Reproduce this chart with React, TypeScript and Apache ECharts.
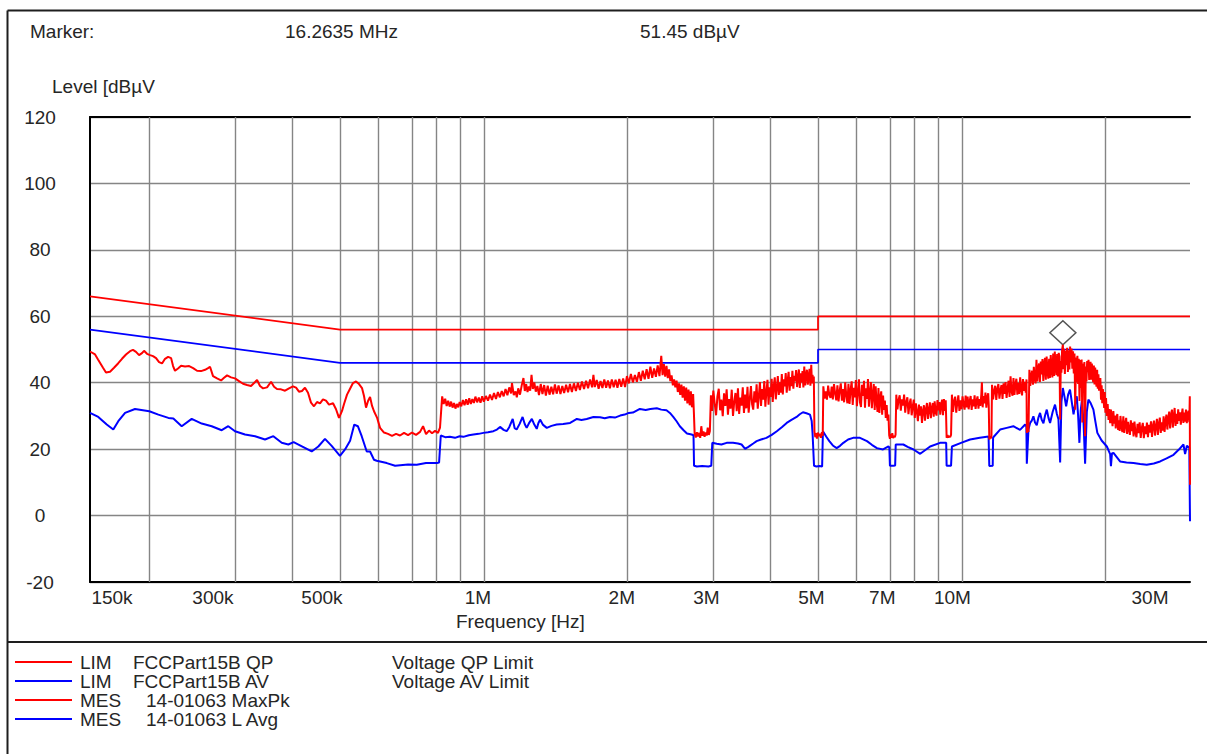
import React, { useEffect, useRef } from 'react';
import * as echarts from 'echarts';

// ---------- data (frequency in MHz, level in dBµV) ----------
const qpLimit: [number, number][] = [[0.15, 66], [0.5, 56], [5, 56], [5, 60], [30, 60]];
const avLimit: [number, number][] = [[0.15, 56], [0.5, 46], [5, 46], [5, 50], [30, 50]];

const maxPkBand1: [number, number][] = [
  [0.150, 49.4], [0.1537, 48.5], [0.1559, 47.0], [0.1597, 44.5], [0.162, 43.1], [0.1652, 43.3], [0.1684, 44.5], [0.1717, 45.8],
  [0.175, 47.2], [0.1784, 48.5], [0.1819, 49.5], [0.1845, 49.9], [0.1872, 49.3], [0.19, 48.3], [0.1927, 48.9], [0.1946, 49.6],
  [0.1974, 48.7], [0.2003, 48.3], [0.2032, 48.0], [0.2062, 47.4], [0.2092, 46.2], [0.2122, 45.8], [0.2153, 47.2], [0.2185, 47.8],
  [0.2217, 47.4], [0.2238, 45.0], [0.2259, 43.6], [0.2292, 44.3], [0.2326, 45.1], [0.2371, 44.9], [0.2418, 45.0], [0.2465, 44.4],
  [0.2512, 43.6], [0.2561, 43.5], [0.2611, 43.9], [0.2649, 44.4], [0.2674, 44.8], [0.2713, 42.0], [0.2766, 41.3], [0.282, 40.7],
  [0.2861, 41.5], [0.2903, 42.2], [0.2959, 41.6], [0.3016, 41.3], [0.3075, 40.5], [0.3135, 39.7], [0.3196, 39.3], [0.3258, 39.0],
  [0.3322, 40.2], [0.3354, 40.8], [0.3402, 39.0], [0.3452, 38.3], [0.3519, 38.6], [0.3588, 40.3], [0.364, 38.8], [0.3692, 38.1],
  [0.3764, 38.0], [0.3838, 37.6], [0.3912, 38.3], [0.3988, 38.9], [0.4047, 38.5], [0.4104, 37.3], [0.4164, 37.5], [0.4225, 38.5],
  [0.4287, 37.0], [0.4349, 34.0], [0.4412, 32.9], [0.4477, 34.2], [0.4542, 33.8], [0.4607, 35.0], [0.4675, 34.6], [0.4743, 33.4],
  [0.4836, 33.8], [0.4906, 32.0], [0.4977, 29.4], [0.505, 31.5], [0.5099, 33.6], [0.5173, 36.4], [0.5249, 38.2], [0.5324, 39.9],
  [0.5402, 40.4], [0.5481, 39.6], [0.556, 38.4], [0.5614, 36.0], [0.5669, 32.5], [0.5724, 34.5], [0.578, 35.7], [0.5836, 33.0],
  [0.5891, 31.4], [0.5977, 29.5], [0.6065, 26.4], [0.6182, 25.0], [0.6302, 24.6], [0.6425, 24.0], [0.6551, 24.6], [0.6677, 24.1],
  [0.6808, 24.9], [0.6941, 24.2], [0.7074, 25.0], [0.7213, 24.3], [0.7354, 25.2], [0.7461, 26.9], [0.7569, 24.5], [0.7679, 25.6],
  [0.7791, 24.8], [0.7905, 25.5], [0.8018, 24.9], [0.8096, 26.5],
];

const maxPkBand2: [number, number][] = [
  [0.818, 35.9], [0.824, 33.6], [0.830, 35.2], [0.836, 33.0], [0.842, 34.6], [0.848, 32.8], [0.854, 34.3], [0.860, 32.5],
  [0.866, 33.9], [0.872, 32.2], [0.878, 33.6], [0.884, 32.6], [0.890, 34.2], [0.897, 32.9], [0.904, 34.8], [0.911, 33.2],
  [0.918, 35.0], [0.925, 33.4], [0.932, 35.3], [0.939, 33.6], [0.946, 35.1], [0.953, 33.9], [0.960, 35.8], [0.968, 34.1],
  [0.976, 35.5], [0.984, 34.0], [0.992, 35.9], [1.000, 34.3], [1.010, 36.0], [1.020, 34.6], [1.030, 36.4], [1.040, 34.8],
  [1.050, 36.9], [1.060, 35.1], [1.070, 37.2], [1.080, 35.6], [1.090, 37.5], [1.100, 35.9], [1.110, 38.1], [1.120, 36.2],
  [1.130, 38.6], [1.140, 36.8], [1.145, 39.9], [1.155, 36.3], [1.165, 37.4], [1.172, 35.6], [1.180, 38.3], [1.190, 36.4],
  [1.200, 39.2], [1.210, 41.4], [1.218, 37.5], [1.226, 39.6], [1.234, 37.2], [1.242, 38.9], [1.250, 37.6], [1.258, 42.4],
  [1.266, 38.1], [1.275, 40.1], [1.284, 37.3], [1.294, 39.0], [1.304, 36.3], [1.315, 39.6], [1.326, 36.6], [1.337, 39.3],
  [1.348, 36.1], [1.360, 39.1], [1.372, 36.4], [1.384, 38.8], [1.396, 36.5], [1.408, 39.5], [1.420, 36.7], [1.433, 39.2],
  [1.446, 36.6], [1.459, 39.0], [1.472, 36.9], [1.486, 39.4], [1.500, 37.1], [1.514, 39.6], [1.528, 37.2], [1.543, 39.8],
  [1.558, 37.5], [1.573, 40.0], [1.588, 37.8], [1.604, 40.4], [1.620, 38.1], [1.636, 40.6], [1.652, 38.3], [1.668, 41.0],
  [1.684, 38.6], [1.695, 42.4], [1.706, 38.7], [1.722, 40.8], [1.738, 38.2], [1.754, 40.5], [1.770, 38.4], [1.786, 41.0],
  [1.802, 38.5], [1.818, 40.7], [1.835, 38.3], [1.852, 41.0], [1.869, 38.6], [1.886, 40.9], [1.903, 38.5], [1.920, 41.1],
  [1.938, 38.8], [1.956, 41.3], [1.974, 38.7], [1.992, 42.0], [2.010, 39.8], [2.030, 42.6], [2.050, 40.1], [2.070, 42.3],
  [2.090, 40.3], [2.110, 43.2], [2.130, 40.6], [2.150, 43.6], [2.170, 41.0], [2.190, 44.1], [2.210, 41.2], [2.230, 44.8],
  [2.250, 41.5], [2.270, 44.3], [2.290, 41.8], [2.310, 45.2], [2.330, 42.0], [2.350, 48.1], [2.365, 42.3], [2.380, 45.6],
  [2.395, 41.8], [2.410, 45.1], [2.425, 41.4], [2.440, 44.0], [2.455, 40.5], [2.470, 42.2], [2.485, 39.2], [2.500, 41.0],
  [2.515, 38.6], [2.530, 40.6], [2.545, 37.2], [2.560, 39.8], [2.575, 36.3], [2.590, 39.4], [2.605, 35.5], [2.620, 38.9],
  [2.635, 34.6], [2.650, 38.5], [2.665, 33.8], [2.680, 37.9], [2.695, 33.2], [2.710, 37.4], [2.725, 32.6], [2.740, 36.6],
  [2.750, 31.0],
];

const maxPkBand3: [number, number][] = [
  [2.760, 24.6], [2.775, 23.5], [2.790, 25.1], [2.805, 23.8], [2.820, 24.9], [2.835, 23.4], [2.850, 26.9], [2.865, 24.0],
  [2.880, 25.3], [2.895, 23.7], [2.910, 25.0], [2.925, 24.1], [2.940, 26.5], [2.955, 24.3], [2.970, 25.4],
  [2.985, 36.2], [3.000, 31.5], [3.020, 37.6], [3.040, 33.8], [3.060, 30.2], [3.080, 35.9], [3.100, 38.2], [3.120, 31.7],
  [3.140, 34.9], [3.160, 29.9], [3.180, 36.8], [3.200, 33.0], [3.220, 38.0], [3.240, 30.4], [3.260, 35.1], [3.280, 32.2],
  [3.300, 37.9], [3.320, 30.0], [3.340, 34.3], [3.360, 36.9], [3.380, 31.4], [3.400, 38.3], [3.420, 30.6], [3.440, 35.5],
  [3.460, 33.1], [3.480, 38.6], [3.500, 30.9], [3.520, 36.4], [3.540, 32.3], [3.560, 38.8], [3.580, 31.0], [3.600, 35.2],
  [3.620, 39.0], [3.640, 33.5], [3.660, 31.9], [3.680, 37.4], [3.700, 34.1], [3.720, 39.5], [3.740, 32.2], [3.760, 36.0],
  [3.780, 40.2], [3.800, 33.0], [3.820, 38.1], [3.840, 34.9], [3.860, 40.5], [3.880, 32.8], [3.900, 37.3], [3.920, 40.9],
  [3.940, 33.4], [3.960, 38.6], [3.980, 35.7], [4.000, 41.2], [4.020, 34.2], [4.040, 39.0], [4.060, 41.6], [4.080, 35.0],
  [4.100, 38.4], [4.120, 42.0], [4.140, 36.3], [4.160, 40.1], [4.180, 37.0], [4.200, 42.6], [4.220, 36.5], [4.240, 41.0],
  [4.260, 38.9], [4.280, 42.9], [4.300, 37.0], [4.320, 40.6], [4.340, 43.3], [4.360, 37.6], [4.380, 41.7], [4.400, 39.0],
  [4.420, 43.6], [4.440, 38.2], [4.460, 42.1], [4.480, 40.4], [4.500, 43.8], [4.520, 38.7], [4.540, 41.5], [4.560, 44.0],
  [4.580, 38.4], [4.600, 42.8], [4.620, 40.1], [4.640, 43.5], [4.660, 38.6], [4.680, 44.9], [4.700, 39.2], [4.720, 42.3],
  [4.740, 43.9], [4.760, 39.4], [4.780, 41.8], [4.800, 44.2], [4.820, 39.1], [4.840, 45.4], [4.855, 39.8], [4.870, 42.4],
  [4.885, 40.6], [4.900, 41.9],
  [4.915, 25.3], [4.935, 23.6], [4.955, 24.8], [4.975, 23.2], [4.995, 25.0], [5.020, 23.9], [5.045, 24.6], [5.070, 23.4],
  [5.095, 25.1], [5.115, 24.0],
];

const maxPkBand4: [number, number][] = [
  [5.130, 38.9], [5.160, 35.2], [5.190, 37.4], [5.220, 34.9], [5.250, 39.1], [5.280, 36.3], [5.310, 35.4], [5.340, 38.8],
  [5.370, 35.0], [5.400, 39.6], [5.430, 36.8], [5.460, 34.7], [5.490, 39.2], [5.520, 34.4], [5.550, 37.6], [5.580, 39.8],
  [5.610, 34.6], [5.640, 38.1], [5.670, 34.1], [5.700, 40.1], [5.730, 36.2], [5.760, 33.8], [5.790, 39.7], [5.820, 33.6],
  [5.850, 37.9], [5.880, 40.4], [5.910, 33.3], [5.940, 38.5], [5.970, 35.6], [6.000, 40.8], [6.030, 32.9], [6.060, 37.2],
  [6.090, 41.0], [6.120, 34.1], [6.150, 32.7], [6.180, 39.4], [6.210, 36.0], [6.240, 40.6], [6.270, 32.5], [6.300, 38.3],
  [6.330, 35.1], [6.360, 41.1], [6.390, 32.8], [6.420, 37.0], [6.450, 40.2], [6.480, 32.3], [6.510, 36.4], [6.540, 39.6],
  [6.570, 31.8], [6.600, 38.9], [6.630, 34.2], [6.660, 31.2], [6.690, 38.4], [6.720, 30.9], [6.750, 35.6], [6.780, 37.4],
  [6.810, 30.4], [6.840, 36.1], [6.870, 31.8], [6.900, 34.6], [6.930, 29.4], [6.960, 33.3], [6.990, 28.6], [7.020, 30.4],
  [7.045, 24.2], [7.070, 23.1], [7.095, 24.5], [7.120, 23.4], [7.150, 24.8], [7.180, 23.3], [7.210, 24.0], [7.240, 23.6],
  [7.265, 24.4],
  [7.290, 36.4], [7.330, 32.0], [7.370, 34.8], [7.410, 36.2], [7.450, 31.6], [7.490, 35.0], [7.530, 33.1], [7.570, 36.4],
  [7.610, 31.0], [7.650, 34.2], [7.690, 35.6], [7.730, 30.5], [7.770, 33.6], [7.810, 35.2], [7.850, 30.2], [7.890, 32.8],
  [7.930, 34.9], [7.970, 29.4], [8.010, 33.8], [8.050, 31.2], [8.090, 28.4], [8.130, 33.4], [8.170, 30.1], [8.210, 32.9],
  [8.250, 27.9], [8.290, 31.6], [8.330, 33.2], [8.370, 28.6], [8.410, 32.0], [8.450, 33.9], [8.490, 29.1], [8.530, 31.8],
  [8.570, 34.1], [8.610, 29.3], [8.650, 32.4], [8.690, 33.9], [8.730, 29.8], [8.770, 34.4], [8.810, 31.2], [8.850, 30.1],
  [8.890, 34.8], [8.930, 31.7], [8.970, 34.2], [9.010, 30.4], [9.050, 33.5], [9.090, 34.9], [9.130, 30.2], [9.170, 35.1],
  [9.210, 31.5], [9.250, 34.7],
  [9.290, 23.4], [9.330, 24.2], [9.370, 23.5], [9.410, 24.0], [9.450, 23.6], [9.490, 24.3],
];

const maxPkBand5: [number, number][] = [
  [9.530, 36.4], [9.580, 31.2], [9.630, 34.6], [9.680, 35.8], [9.730, 31.0], [9.780, 33.9], [9.830, 36.2], [9.880, 31.5],
  [9.930, 34.7], [9.980, 32.0], [10.03, 35.9], [10.08, 33.4], [10.13, 31.9], [10.18, 36.1], [10.23, 32.6], [10.28, 35.8],
  [10.33, 32.0], [10.38, 34.5], [10.43, 36.0], [10.48, 31.8], [10.53, 35.0], [10.58, 32.9], [10.63, 36.2], [10.68, 32.1],
  [10.73, 34.4], [10.78, 35.9], [10.83, 32.2], [10.88, 35.1], [10.93, 33.0], [10.98, 36.5], [11.01, 40.1], [11.05, 32.6],
  [11.10, 36.0], [11.15, 33.8], [11.20, 37.0], [11.25, 32.5], [11.30, 35.6], [11.35, 36.8], [11.38, 33.2],
  [11.41, 22.9], [11.45, 23.8], [11.49, 23.2], [11.53, 24.0],
  [11.56, 39.4], [11.62, 35.0], [11.68, 37.6], [11.74, 39.1], [11.80, 34.8], [11.86, 38.2], [11.92, 39.6], [11.98, 35.2],
  [12.04, 37.8], [12.10, 39.3], [12.16, 35.1], [12.22, 39.8], [12.28, 36.6], [12.34, 40.2], [12.40, 35.4], [12.46, 38.3],
  [12.52, 40.6], [12.58, 35.7], [12.64, 41.9], [12.70, 37.4], [12.76, 36.1], [12.82, 41.4], [12.88, 36.3], [12.94, 39.5],
  [13.00, 41.2], [13.06, 36.4], [13.12, 40.0], [13.18, 36.6], [13.24, 41.6], [13.30, 37.9], [13.36, 36.2], [13.42, 41.1],
  [13.48, 37.5], [13.54, 40.3], [13.60, 37.0], [13.65, 41.0],
  [13.67, 24.9], [13.72, 26.0], [13.78, 25.2],
];

const maxPkBand6: [number, number][] = [
  [13.84, 43.9], [13.90, 39.0], [13.96, 42.1], [14.02, 43.6], [14.08, 39.4], [14.14, 44.8], [14.20, 41.2], [14.26, 39.8],
  [14.32, 46.9], [14.38, 40.4], [14.44, 44.1], [14.50, 45.8], [14.56, 40.2], [14.62, 46.4], [14.68, 42.5], [14.74, 47.1],
  [14.80, 40.5], [14.86, 45.3], [14.92, 47.5], [14.98, 40.9], [15.04, 47.9], [15.10, 43.6], [15.16, 41.2], [15.22, 47.2],
  [15.28, 41.4], [15.34, 48.3], [15.40, 44.0], [15.46, 41.6], [15.52, 48.8], [15.58, 42.0], [15.64, 49.4], [15.70, 45.1],
  [15.76, 42.3], [15.82, 48.6], [15.88, 41.9], [15.94, 49.0], [16.00, 47.8], [16.05, 28.9], [16.10, 46.5], [16.15, 43.0],
  [16.20, 49.8], [16.2635, 51.45], [16.30, 44.1], [16.36, 50.2], [16.42, 42.6], [16.48, 49.6], [16.54, 45.3], [16.60, 50.5],
  [16.66, 43.2], [16.72, 49.8], [16.78, 44.0], [16.84, 50.9], [16.90, 46.1], [16.96, 50.3], [17.02, 44.2], [17.08, 49.5],
  [17.14, 42.8], [17.20, 48.8], [17.26, 31.9], [17.32, 47.6], [17.38, 40.2], [17.44, 48.1], [17.50, 39.6], [17.56, 47.2],
  [17.62, 34.5], [17.68, 46.8], [17.74, 38.4], [17.80, 47.0], [17.86, 28.0], [17.92, 45.8], [17.98, 38.1], [18.04, 46.2],
  [18.10, 23.9], [18.16, 44.9], [18.22, 40.4], [18.28, 46.5], [18.34, 43.2], [18.40, 46.9], [18.46, 40.8], [18.52, 45.0],
  [18.58, 46.3], [18.64, 40.9], [18.70, 45.8], [18.76, 41.6], [18.82, 40.2], [18.88, 45.2], [18.94, 39.5], [19.00, 44.6],
  [19.06, 41.3], [19.12, 38.8], [19.18, 43.9], [19.24, 38.2], [19.30, 42.5], [19.36, 37.6], [19.42, 40.6], [19.48, 41.4],
  [19.54, 34.9], [19.60, 39.2], [19.66, 33.8], [19.72, 38.1], [19.78, 35.2], [19.84, 32.4], [19.90, 37.2], [19.96, 31.0],
];

const maxPkBand7: [number, number][] = [
  [20.02, 35.4], [20.10, 30.0], [20.18, 33.6], [20.26, 28.8], [20.34, 32.1], [20.42, 27.8], [20.50, 31.9], [20.58, 29.3],
  [20.66, 26.9], [20.74, 31.5], [20.82, 27.7], [20.90, 30.1], [20.98, 26.2], [21.06, 29.4], [21.14, 30.6], [21.22, 25.8],
  [21.30, 28.7], [21.38, 25.5], [21.46, 30.0], [21.56, 26.8], [21.66, 25.1], [21.76, 29.9], [21.86, 24.9], [21.96, 27.6],
  [22.06, 29.4], [22.16, 24.6], [22.26, 28.2], [22.36, 26.0], [22.46, 24.3], [22.56, 28.7], [22.66, 25.4], [22.76, 27.9],
  [22.86, 23.8], [22.96, 28.3], [23.06, 25.1], [23.18, 23.6], [23.30, 27.6], [23.42, 24.8], [23.54, 28.1], [23.66, 23.4],
  [23.78, 26.4], [23.90, 27.9], [24.02, 23.3], [24.14, 26.9], [24.26, 24.5], [24.38, 28.0], [24.50, 23.6], [24.62, 27.3],
  [24.74, 25.0], [24.86, 28.4], [24.98, 23.7], [25.10, 27.0], [25.22, 28.6], [25.34, 24.1], [25.46, 26.8], [25.58, 29.1],
  [25.70, 24.3], [25.82, 27.6], [25.94, 29.5], [26.06, 24.9], [26.18, 28.1], [26.30, 25.6], [26.42, 29.9], [26.54, 25.2],
  [26.66, 28.4], [26.78, 30.4], [26.90, 25.9], [27.02, 29.2], [27.14, 31.3], [27.26, 26.2], [27.38, 30.1], [27.50, 31.9],
  [27.62, 26.5], [27.74, 29.8], [27.86, 32.4], [27.98, 27.0], [28.10, 30.6], [28.22, 27.6], [28.34, 32.0], [28.46, 28.5],
  [28.58, 31.1], [28.70, 27.4], [28.82, 30.2], [28.94, 32.2], [29.06, 27.9], [29.18, 31.0], [29.30, 28.3], [29.42, 31.9],
  [29.54, 27.8], [29.66, 30.5], [29.78, 31.6], [29.90, 28.1], [29.97, 35.9], [30.00, 9.3],
];

const avgBand1: [number, number][] = [
  [0.150, 30.9], [0.1561, 29.7], [0.1626, 27.4], [0.1678, 25.9], [0.1719, 28.4], [0.1776, 30.9], [0.1863, 32.1], [0.1996, 31.4],
  [0.2085, 30.4], [0.2188, 29.4], [0.2241, 29.2], [0.2333, 26.9], [0.2448, 29.1], [0.2569, 27.7], [0.2696, 26.9], [0.2829, 25.7],
  [0.292, 26.9], [0.3016, 25.4], [0.3165, 24.4], [0.3322, 23.9], [0.3485, 22.9], [0.3628, 23.9], [0.3777, 21.9], [0.3899, 21.4],
  [0.400, 22.1], [0.4104, 21.3], [0.4364, 19.3], [0.4505, 20.8], [0.4652, 23.1], [0.4804, 21.0], [0.500, 18.0], [0.5124, 19.9],
  [0.525, 22.5], [0.5357, 27.4], [0.545, 26.9], [0.5552, 23.9], [0.5688, 19.3], [0.578, 19.3], [0.5891, 16.8], [0.5969, 16.5],
  [0.6265, 15.8], [0.6521, 15.0], [0.6941, 15.4], [0.7238, 15.3], [0.7567, 15.8], [0.797, 15.8], [0.806, 16.0], [0.8126, 24.1],
  [0.830, 23.6], [0.849, 23.7], [0.870, 23.4], [0.890, 23.9], [0.906, 23.7], [0.930, 24.2], [0.951, 24.4], [0.975, 24.6],
  [0.998, 24.9], [1.020, 25.1], [1.047, 25.4], [1.065, 25.9], [1.081, 26.7], [1.100, 25.8], [1.116, 25.4], [1.130, 26.6],
  [1.149, 29.1], [1.160, 26.3], [1.171, 25.9], [1.188, 27.6], [1.205, 29.7], [1.218, 27.5], [1.229, 26.4], [1.245, 28.0],
  [1.260, 29.1], [1.275, 27.4], [1.290, 26.1], [1.300, 27.8], [1.311, 28.9], [1.330, 27.3], [1.354, 26.4], [1.385, 27.0],
  [1.420, 27.4], [1.465, 27.6], [1.515, 27.9], [1.540, 28.5], [1.565, 29.1], [1.600, 28.8], [1.641, 29.1], [1.695, 29.7],
  [1.750, 29.6], [1.790, 29.3], [1.836, 29.7], [1.880, 29.5], [1.928, 30.1], [1.970, 30.4], [2.010, 30.9], [2.050, 31.0],
  [2.120, 32.1], [2.180, 31.8], [2.230, 32.1], [2.300, 32.3], [2.350, 31.9], [2.410, 31.7], [2.450, 30.9], [2.490, 29.7],
  [2.530, 28.4], [2.570, 26.9], [2.620, 25.6], [2.660, 24.7], [2.720, 24.4], [2.745, 24.2],
];

const avgBand2: [number, number][] = [
  [2.752, 15.0], [2.790, 14.8], [2.860, 14.9], [2.950, 14.8], [2.990, 15.0],
  [3.005, 21.9], [3.070, 21.6], [3.140, 21.4], [3.220, 21.9], [3.320, 21.9], [3.400, 21.7], [3.460, 21.4], [3.520, 20.1],
  [3.560, 20.5], [3.600, 21.0], [3.660, 21.7], [3.720, 22.4], [3.800, 22.9], [3.900, 23.4], [4.000, 24.3], [4.100, 25.4],
  [4.200, 26.6], [4.300, 27.9], [4.400, 28.8], [4.510, 29.7], [4.580, 30.5], [4.650, 31.1], [4.730, 30.8], [4.810, 30.4],
  [4.850, 28.5], [4.870, 24.9],
  [4.905, 15.0], [4.960, 14.8], [5.040, 14.9], [5.100, 14.8],
  [5.120, 25.4], [5.200, 23.8], [5.280, 22.4], [5.370, 21.1], [5.470, 20.3], [5.560, 21.0], [5.650, 21.9], [5.780, 22.9],
  [5.920, 23.4], [6.120, 23.4], [6.330, 22.4], [6.480, 21.3], [6.640, 20.3], [6.840, 19.9], [7.020, 20.8], [7.050, 20.5],
  [7.070, 15.0], [7.180, 15.0], [7.250, 15.1],
  [7.270, 21.4], [7.540, 21.4], [7.700, 20.7], [7.920, 19.9], [8.180, 18.6], [8.400, 19.8], [8.580, 20.8], [9.000, 21.9],
  [9.270, 21.9], [9.290, 15.0], [9.490, 15.0], [9.530, 20.8], [9.960, 21.9], [10.40, 22.9], [10.90, 23.4], [11.37, 23.8],
  [11.41, 14.9], [11.60, 15.0], [11.62, 23.5], [12.02, 25.9], [12.41, 26.4], [12.81, 26.9], [13.23, 25.8], [13.56, 27.4],
  [13.64, 26.8], [13.67, 15.6], [13.78, 26.0],
];

const avgBand3: [number, number][] = [
  [13.89, 27.9], [14.00, 28.6], [14.11, 29.9], [14.22, 28.0], [14.34, 27.2], [14.45, 29.4], [14.57, 30.9], [14.69, 28.8],
  [14.81, 27.8], [14.93, 30.2], [15.05, 31.9], [15.17, 29.5], [15.29, 27.9], [15.48, 31.2], [15.66, 33.4], [15.80, 30.6],
  [15.92, 29.0], [16.05, 16.0], [16.15, 34.2], [16.26, 38.4], [16.40, 35.6], [16.52, 32.9], [16.68, 36.4], [16.83, 37.9],
  [16.98, 34.1], [17.12, 30.5], [17.26, 33.8], [17.39, 35.9], [17.50, 30.2], [17.61, 21.9], [17.72, 31.6], [17.82, 34.5],
  [17.96, 28.7], [18.10, 15.6], [18.25, 31.2], [18.39, 34.9], [18.60, 33.8], [18.84, 31.9], [19.02, 28.3], [19.20, 24.9],
  [19.60, 22.6], [20.10, 20.8], [20.42, 18.5], [20.50, 14.9], [20.60, 18.7], [20.75, 18.9], [21.42, 16.3], [22.10, 16.0],
  [22.85, 15.8], [23.60, 15.5], [24.36, 15.3], [25.20, 15.7], [25.98, 16.3], [26.80, 17.2], [27.71, 18.3], [28.40, 19.8],
  [29.07, 21.4], [29.30, 18.5], [29.55, 21.0], [29.90, 20.5], [30.00, -1.7],
];

const markerFreqMHz = 16.2635;
const markerLevel = 51.45;

const gridTickFreqs = [0.2, 0.3, 0.4, 0.5, 0.6, 0.7, 0.8, 0.9, 1, 2, 3, 4, 5, 6, 7, 8, 9, 10, 20, 30];
const xLabelFreqs = [0.15, 0.3, 0.5, 1, 2, 3, 5, 7, 10, 30];
const xLabelTexts = ['150k', '300k', '500k', '1M', '2M', '3M', '5M', '7M', '10M', '30M'];
const yMin = -20;
const yMax = 120;
const yStep = 20;

const legendRows = [
  { color: '#ff0000', kind: 'LIM', name: 'FCCPart15B QP', desc: 'Voltage QP Limit' },
  { color: '#0000ff', kind: 'LIM', name: 'FCCPart15B AV', desc: 'Voltage AV Limit' },
  { color: '#ff0000', kind: 'MES', name: '14-01063 MaxPk', desc: '' },
  { color: '#0000ff', kind: 'MES', name: '14-01063 L Avg', desc: '' },
];

// ---------- style ----------
const FONT = '"Liberation Sans", Arial, Helvetica, sans-serif';
const TEXT = '#262626';
const FS = 19;
const xLabelShift = [22, -21, -18, -6, -6, -5.5, -6.5, -5.6, -9.5, -40];

const lg = (f: number) => Math.log10(f);
const toXY = (arr: [number, number][]) => arr.map(([f, v]) => [lg(f), v]);

function buildOption() {
  const xMin = lg(0.15);
  const xMax = lg(30);
  const labelVals = xLabelFreqs.map(lg);
  const rich: Record<string, any> = {};
  xLabelShift.forEach((s, i) => {
    rich['l' + i] = {
      fontFamily: FONT,
      fontSize: FS,
      color: TEXT,
      padding: [0, s < 0 ? -2 * s : 0, 0, s > 0 ? 2 * s : 0],
    };
  });

  const maxPk = [...maxPkBand1, ...maxPkBand2, ...maxPkBand3, ...maxPkBand4, ...maxPkBand5, ...maxPkBand6, ...maxPkBand7];
  const avg = [...avgBand1, ...avgBand2, ...avgBand3];

  const textStyle = (text: string, x: number, y: number, extra: any = {}) => ({
    type: 'text',
    x,
    y,
    silent: true,
    style: {
      text,
      fill: TEXT,
      font: `${FS}px ${FONT}`,
      textVerticalAlign: 'middle',
      verticalAlign: 'middle',
      ...extra,
    },
  });

  const graphics: any[] = [
    { type: 'line', silent: true, shape: { x1: 7.5, y1: 10.5, x2: 1207, y2: 10.5 }, style: { stroke: '#1e1e1e', lineWidth: 2 } },
    { type: 'line', silent: true, shape: { x1: 7.5, y1: 10.5, x2: 7.5, y2: 754 }, style: { stroke: '#1e1e1e', lineWidth: 2 } },
    { type: 'line', silent: true, shape: { x1: 7.5, y1: 642, x2: 1207, y2: 642 }, style: { stroke: '#1e1e1e', lineWidth: 2 } },
    textStyle('Marker:', 30, 31),
    textStyle(`${markerFreqMHz} MHz`, 285, 31),
    textStyle(`${markerLevel.toFixed(2)} dBµV`, 640, 31),
    textStyle('Level [dBµV', 52, 86),
    textStyle('Frequency [Hz]', 456, 621),
  ];
  const rowY = [662, 681, 700, 719];
  legendRows.forEach((r, i) => {
    const y = rowY[i];
    graphics.push({ type: 'line', silent: true, shape: { x1: 15, y1: y, x2: 72, y2: y }, style: { stroke: r.color, lineWidth: 1.8 } });
    graphics.push(textStyle(r.kind, 80, y));
    graphics.push(textStyle(r.name, r.kind === 'LIM' ? 133 : 146, y));
    if (r.desc) graphics.push(textStyle(r.desc, 392, y));
  });

  const axisBlack = { show: true, onZero: false, lineStyle: { color: '#000', width: 2 } };

  return {
    animation: false,
    backgroundColor: '#ffffff',
    grid: { left: 90, top: 117, right: 17, bottom: 172, containLabel: false },
    xAxis: [
      {
        type: 'value',
        min: xMin,
        max: xMax,
        axisLine: axisBlack,
        axisTick: { show: false },
        splitLine: { show: false },
        axisLabel: {
          customValues: labelVals,
          margin: 6,
          fontFamily: FONT,
          fontSize: FS,
          color: TEXT,
          formatter: (v: number) => {
            let best = 0;
            labelVals.forEach((lv, i) => {
              if (Math.abs(lv - v) < Math.abs(labelVals[best] - v)) best = i;
            });
            return `{l${best}|${xLabelTexts[best]}}`;
          },
          rich,
        },
      },
      {
        type: 'value',
        position: 'top',
        min: xMin,
        max: xMax,
        axisLine: axisBlack,
        axisTick: { show: false },
        axisLabel: { show: false },
        splitLine: { show: false },
      },
    ],
    yAxis: {
      type: 'value',
      min: yMin,
      max: yMax,
      interval: yStep,
      axisLine: axisBlack,
      axisTick: { show: false },
      splitLine: { show: true, lineStyle: { color: '#858585', width: 1.4 } },
      axisLabel: { margin: 50, align: 'center', fontFamily: FONT, fontSize: FS, color: TEXT },
    },
    graphic: graphics,
    series: [
      {
        name: 'grid',
        type: 'line',
        data: [],
        silent: true,
        markLine: {
          silent: true,
          z: 1,
          symbol: ['none', 'none'],
          label: { show: false },
          emphasis: { disabled: true },
          lineStyle: { type: 'solid', color: '#858585', width: 1.4 },
          data: gridTickFreqs.map((f) => ({ xAxis: lg(f) })),
        },
      },
      {
        name: 'LIM FCCPart15B QP',
        type: 'line',
        z: 3,
        data: toXY(qpLimit),
        symbol: 'none',
        silent: true,
        lineStyle: { color: '#ff0000', width: 1.7 },
      },
      {
        name: 'LIM FCCPart15B AV',
        type: 'line',
        z: 3,
        data: toXY(avLimit),
        symbol: 'none',
        silent: true,
        lineStyle: { color: '#0000ff', width: 1.7 },
      },
      {
        name: 'MES 14-01063 L Avg',
        type: 'line',
        z: 4,
        data: toXY(avg),
        symbol: 'none',
        silent: true,
        lineStyle: { color: '#0000ff', width: 2 },
      },
      {
        name: 'MES 14-01063 MaxPk',
        type: 'line',
        z: 5,
        data: toXY(maxPk),
        symbol: 'none',
        silent: true,
        lineStyle: { color: '#ff0000', width: 2 },
        markPoint: {
          silent: true,
          symbol: 'diamond',
          symbolSize: [26, 24],
          symbolOffset: [0, -12],
          label: { show: false },
          itemStyle: { color: '#ffffff', borderColor: '#555555', borderWidth: 1.5 },
          data: [{ coord: [lg(markerFreqMHz), markerLevel] }],
        },
      },
    ],
  };
}

export default function App() {
  const ref = useRef<HTMLDivElement>(null);
  useEffect(() => {
    if (!ref.current) return;
    const chart = echarts.init(ref.current, undefined, { renderer: 'svg' });
    chart.setOption(buildOption() as any);
    return () => chart.dispose();
  }, []);
  return (
    <div
      ref={ref}
      style={{ position: 'fixed', left: 0, top: 0, width: 1207, height: 754, background: '#ffffff' }}
    />
  );
}
